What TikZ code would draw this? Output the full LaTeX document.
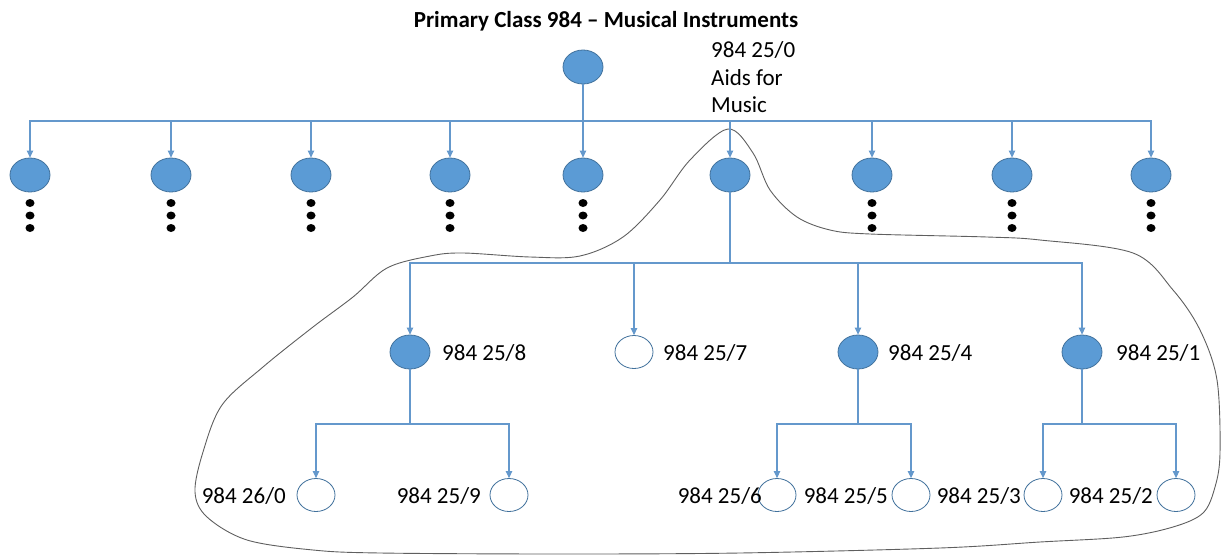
\documentclass[tikz,border=0pt]{standalone}
\usepackage{fontspec}
\setmainfont{Carlito}
\usetikzlibrary{arrows.meta,shapes.geometric}
\definecolor{nodeblue}{RGB}{91,155,213}
\definecolor{edgeblue}{RGB}{65,113,156}
\definecolor{linkblue}{RGB}{100,152,204}
\definecolor{loopgray}{RGB}{95,95,95}
\begin{document}
\begin{tikzpicture}[x=1pt,y=-1pt,
  fullnode/.style={ellipse, draw=edgeblue, fill=nodeblue, minimum width=40pt, minimum height=34pt, inner sep=0pt, line width=0.8pt},
  opennode/.style={ellipse, draw=edgeblue, fill=white, minimum width=38pt, minimum height=33pt, inner sep=0pt, line width=0.8pt},
  dotnode/.style={ellipse, fill=black, minimum width=9pt, minimum height=8pt, inner sep=0pt},
  conn/.style={draw=linkblue, line width=1.1pt, -{Triangle[length=7pt,width=6.5pt]}},
  lbl/.style={inner sep=0pt, font=\fontsize{23}{28}\selectfont},
]
\useasboundingbox (0,0) rectangle (1221,557);

% enclosing loop
\draw[loopgray, line width=0.9pt] plot[smooth cycle, tension=0.55] coordinates {
  (728,129) (753,153) (770,190) (797,217) (830,230) (870,234) (987,237)
  (1040,240) (1133,253) (1173,290) (1200,330) (1217,380) (1220,453)
  (1215,487) (1203,513) (1173,527) (1123,537) (1040,542) (940,548)
  (740,553) (560,554) (380,553) (313,550) (247,540) (207,517) (195,492)
  (203,452) (222,405) (263,367) (313,327) (353,297) (387,268) (430,256)
  (463,253) (530,257) (580,256) (623,237) (660,200) (690,160)};

% title
\node[font=\bfseries\fontsize{23}{27}\selectfont, anchor=base, inner sep=0pt] (title) at (606,27) {Primary Class 984 – Musical Instruments};

% root
\node[fullnode] (root) at (583,67) {};
\coordinate (bus1) at (583,121);

% level 1
\foreach \i/\x in {1/30,2/171,3/311,4/450,5/583,6/730,7/872,8/1012,9/1151}{
  \node[fullnode] (a\i) at (\x,175) {};
  \draw[conn] (root.south) -- (root.south |- bus1) -| (a\i.north);
}
\foreach \i/\x in {1/30,2/171,3/311,4/450,5/583,7/872,8/1012,9/1151}{
  \node[dotnode] (d\i a) at (\x,203) {};
  \node[dotnode] (d\i b) at (\x,215.5) {};
  \node[dotnode] (d\i c) at (\x,228) {};
}

% label of a6
\node[lbl, anchor=base west] (l0a) at (711,57) {984 25/0};
\node[lbl, anchor=base west] (l0b) at (711,85) {Aids for};
\node[lbl, anchor=base west] (l0c) at (711,112) {Music};

% level 2
\coordinate (bus2) at (730,263);
\node[fullnode] (b1) at (410,352) {};
\node[opennode] (b2) at (634,352) {};
\node[fullnode] (b3) at (858,352) {};
\node[fullnode] (b4) at (1082,352) {};
\foreach \j in {1,2,3,4}{
  \draw[conn] (a6.south) -- (a6.south |- bus2) -| (b\j.north);
}
\node[lbl, anchor=base west] (lb1) at (442,360) {984 25/8};
\node[lbl, anchor=base west] (lb2) at (663,360) {984 25/7};
\node[lbl, anchor=base west] (lb3) at (888,360) {984 25/4};
\node[lbl, anchor=base west] (lb4) at (1116,360) {984 25/1};

% level 3
\node[opennode] (c1) at (316,495) {};
\node[opennode] (c2) at (509,495) {};
\node[opennode] (c3) at (777,495) {};
\node[opennode] (c4) at (911,495) {};
\node[opennode] (c5) at (1043,495) {};
\node[opennode] (c6) at (1176,495) {};
\coordinate (bus3) at (0,424);
\foreach \p/\c in {b1/c1,b1/c2,b3/c3,b3/c4,b4/c5,b4/c6}{
  \draw[conn] (\p.south) -- (\p.south |- bus3) -| (\c.north);
}
\node[lbl, anchor=base east] (lc1) at (286,503) {984 26/0};
\node[lbl, anchor=base east] (lc2) at (481,503) {984 25/9};
\node[lbl, anchor=base east] (lc3) at (762,503) {984 25/6};
\node[lbl, anchor=base east] (lc4) at (888,503) {984 25/5};
\node[lbl, anchor=base east] (lc5) at (1021,503) {984 25/3};
\node[lbl, anchor=base east] (lc6) at (1153,503) {984 25/2};
\end{tikzpicture}
\end{document}
